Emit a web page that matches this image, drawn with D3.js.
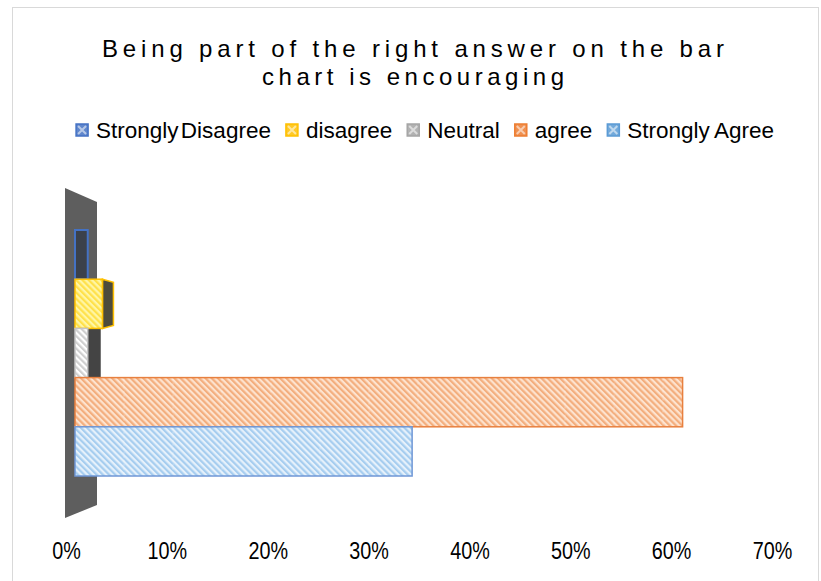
<!DOCTYPE html>
<html>
<head>
<meta charset="utf-8">
<script src="https://cdn.jsdelivr.net/npm/d3@7"></script>
<style>
  body { margin: 0; background: #fff; }
  svg { display: block; font-family: "Liberation Sans", Arial, sans-serif; }
</style>
</head>
<body>
<div id="chart"></div>
<script>
// chart data
const categories = ['Strongly Disagree', 'disagree', 'Neutral', 'agree', 'Strongly Agree'];
const values = [0.013, 0.028, 0.013, 0.62, 0.344];
const colors = ['#4472c4', '#ffc000', '#a5a5a5', '#ed7d31', '#5b9bd5'];
const tickValues = [0, 0.1, 0.2, 0.3, 0.4, 0.5, 0.6, 0.7];
const titleLines = ['Being part of the right answer on the bar', 'chart is encouraging'];

// hatch look per series: [background, stripe, border]
const hatch = [
  ['#3b414b', '#3b414b', '#4472c4'],
  ['#fff6a6', '#ffe14a', '#ffc000'],
  ['#ffffff', '#cfcfcf', '#c4c4c4'],
  ['#fde3cf', '#f3ae7e', '#e8803f'],
  ['#e6f1fb', '#a6cdef', '#6f97d6']
];

const width = 821, height = 581;

const svg = d3.select('#chart').append('svg')
  .attr('width', width)
  .attr('height', height);

const defs = svg.append('defs');
hatch.forEach((h, i) => {
  const p = defs.append('pattern')
    .attr('id', 'hatch' + i)
    .attr('patternUnits', 'userSpaceOnUse')
    .attr('width', 4.4)
    .attr('height', 4.4)
    .attr('patternTransform', 'rotate(-45)');
  p.append('rect').attr('width', 4.4).attr('height', 4.4).attr('fill', h[0]);
  p.append('rect').attr('width', 2.2).attr('height', 4.4).attr('fill', h[1]);
});

// outer border
svg.append('rect')
  .attr('x', 12.5).attr('y', 7.5)
  .attr('width', 806).attr('height', 620)
  .attr('fill', 'none')
  .attr('stroke', '#d9d9d9');

// title
svg.append('g').selectAll('text')
  .data(titleLines)
  .enter().append('text')
  .attr('x', 413)
  .attr('y', (d, i) => 57 + i * 28)
  .attr('text-anchor', 'middle')
  .attr('font-size', '24px')
  .attr('fill', '#000')
  .attr('textLength', (d, i) => i === 0 ? 622 : 302)
  .attr('lengthAdjust', 'spacing')
  .text(d => d);

// legend
const legend = svg.append('g');
const items = legend.selectAll('g')
  .data(categories)
  .enter().append('g');

items.append('rect')
  .attr('width', 12).attr('height', 12)
  .attr('y', 124)
  .attr('fill', (d, i) => colors[i])
  .attr('fill-opacity', 0.85)
  .attr('stroke', (d, i) => colors[i])
  .attr('stroke-width', 1.5);
items.append('path')
  .attr('d', 'M2,126 L10,134 M10,126 L2,134')
  .attr('stroke', '#fff')
  .attr('stroke-opacity', 0.55)
  .attr('stroke-width', 2);
items.append('text')
  .attr('x', 20)
  .attr('y', 138)
  .attr('font-size', '22.5px')
  .attr('word-spacing', (d, i) => i === 0 ? '-4px' : '-1px')
  .attr('fill', '#000')
  .text(d => d);

let lx = 0;
const pos = [];
items.each(function() {
  pos.push(lx);
  lx += 20 + this.querySelector('text').getComputedTextLength() + 15;
});
const total = lx - 15;
const startX = 425 - total / 2;
items.attr('transform', (d, i) => `translate(${startX + pos[i]},0)`);

// scales
const x = d3.scaleLinear().domain([0, 0.7]).range([66, 772]);   // axis labels (back plane)
const xf = d3.scaleLinear().domain([0, 0.7]).range([75, 761]);  // front face of bars
const y = d3.scaleBand().domain(categories).range([230, 476]);

// 3D side wall
const wallL = x(0) - 1, wallR = xf(0) + 22;
svg.append('path')
  .attr('d', `M${wallL},188 L${wallR},202 L${wallR},505 L${wallL},518 Z`)
  .attr('fill', '#5e5e5e');

// axis labels
const axis = d3.axisBottom(x)
  .tickValues(tickValues)
  .tickFormat(d3.format('.0%'))
  .tickSize(0);
const ax = svg.append('g')
  .attr('transform', 'translate(0,540)')
  .call(axis);
ax.select('.domain').remove();
ax.selectAll('text')
  .attr('font-family', '"Liberation Sans", Arial, sans-serif')
  .attr('font-size', '23px')
  .attr('fill', '#000')
  .attr('dy', '0.71em')
  .each(function() {
    const w = this.getComputedTextLength();
    d3.select(this).attr('textLength', w * 0.86)
      .attr('lengthAdjust', 'spacingAndGlyphs');
  });

const data = categories.map((c, i) => ({ cat: c, value: values[i], i: i }));
const bars = svg.append('g');

// side faces for the short bars (seen in perspective)
bars.selectAll('.side')
  .data(data.filter(d => d.i === 1 || d.i === 2))
  .enter().append('path')
  .attr('class', 'side')
  .attr('d', d => {
    const x1 = xf(d.value), y0 = y(d.cat), y1 = y0 + y.bandwidth();
    const dx = d.i === 1 ? 11 : 13, dy = d.i === 1 ? 3 : 0;
    return `M${x1},${y0} L${x1 + dx},${y0 + dy} L${x1 + dx},${y1 - dy} L${x1},${y1} Z`;
  })
  .attr('fill', d => d.i === 1 ? '#4d4b3c' : '#444')
  .attr('stroke', d => d.i === 1 ? '#ffc000' : 'none')
  .attr('stroke-width', 1.5);

// front faces
bars.selectAll('.bar')
  .data(data)
  .enter().append('rect')
  .attr('class', 'bar')
  .attr('x', xf(0))
  .attr('y', d => y(d.cat))
  .attr('width', d => xf(d.value) - xf(0))
  .attr('height', y.bandwidth())
  .attr('fill', d => `url(#hatch${d.i})`)
  .attr('stroke', d => hatch[d.i][2])
  .attr('stroke-width', d => d.i === 0 ? 2 : 1.5);

// faint texture seams inside the long bars
const seams = d3.range(0.05, 0.7, 0.05);
data.filter(d => d.value > 0.05).forEach(d => {
  bars.selectAll(null)
    .data(seams.filter(s => s < d.value - 0.01))
    .enter().append('line')
    .attr('x1', s => xf(s)).attr('x2', s => xf(s))
    .attr('y1', y(d.cat) + 1).attr('y2', y(d.cat) + y.bandwidth() - 1)
    .attr('stroke', '#fff')
    .attr('stroke-opacity', 0.35)
    .attr('stroke-dasharray', '2,2');
});
</script>
</body>
</html>
